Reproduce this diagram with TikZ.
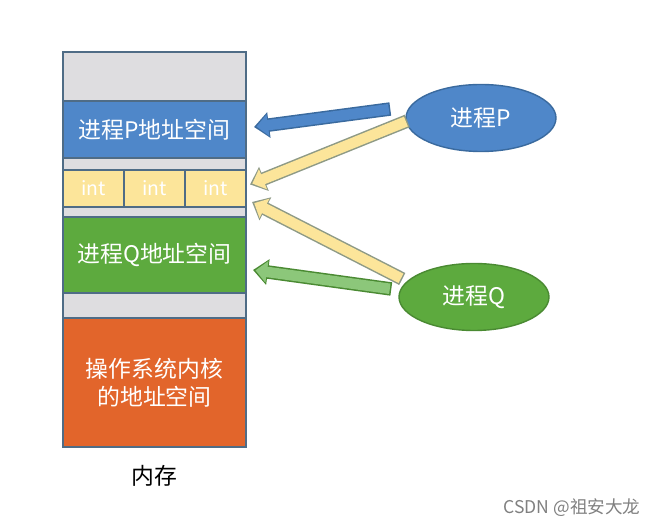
\documentclass[tikz,border=0pt]{standalone}
\usepackage{fontspec}
\newfontfamily\cjk{Noto Sans CJK SC}
\usepackage{tikz}
\usetikzlibrary{positioning,shapes.geometric,arrows.meta}

\definecolor{memgray}{HTML}{DEDDE0}
\definecolor{memedge}{HTML}{4F6C86}
\definecolor{pblue}{HTML}{4F87C9}
\definecolor{pbluedark}{HTML}{3A6A9E}
\definecolor{intyellow}{HTML}{FCE59A}
\definecolor{yellowedge}{HTML}{8E9A86}
\definecolor{qgreen}{HTML}{5DAA3E}
\definecolor{qgreendark}{HTML}{4A8A32}
\definecolor{lightgreen}{HTML}{8CC77A}
\definecolor{osorange}{HTML}{E2652B}

\tikzset{
	seg/.style={draw=memedge, line width=0.7pt, minimum width=3.66cm, inner sep=0pt, outer sep=0pt,
		text=white, font=\cjk\fontsize{13}{16}\selectfont},
	cell/.style={seg, fill=intyellow, minimum width=1.22cm, minimum height=0.74cm, font=\cjk\fontsize{11}{13}\selectfont},
	proc/.style={ellipse, draw=#1, line width=0.8pt, minimum width=3.0cm, minimum height=1.34cm,
		text=white, font=\cjk\fontsize{13}{16}\selectfont},
	blkedge/.style={draw=#1, line width=0.27cm, -{Triangle[width=0.5cm,length=0.3cm]}},
	blkfill/.style={draw=#1, line width=0.21cm, shorten >=0.05cm, shorten <=0.03cm,
		-{Triangle[width=0.42cm,length=0.23cm]}}
}

\begin{document}
\begin{tikzpicture}
	\useasboundingbox (0,0) rectangle (13.16,-10.52);
	
	% memory column
	\node[seg, fill=memgray, minimum height=0.98cm] (top) at (3.09,-1.53) {};
	\node[seg, fill=pblue, minimum height=1.14cm, below=0pt of top] (pspace) {进程P地址空间};
	\node[seg, fill=memgray, minimum height=0.24cm, below=0pt of pspace] (gap1) {};
	\node[cell, anchor=north west] (int1) at (gap1.south west) {int};
	\node[cell, right=0pt of int1] (int2) {int};
	\node[cell, right=0pt of int2] (int3) {int};
	\node[seg, fill=memgray, minimum height=0.2cm, below=0pt of int2] (gap2) {};
	\node[seg, fill=qgreen, minimum height=1.52cm, below=0pt of gap2] (qspace) {进程Q地址空间};
	\node[seg, fill=memgray, minimum height=0.5cm, below=0pt of qspace] (gap3) {};
	\node[seg, fill=osorange, minimum height=2.58cm, align=center, below=0pt of gap3] (os) {操作系统内核\\的地址空间};
	\node[inner sep=0pt, font=\cjk\fontsize{13}{16}\selectfont, below=0.35cm of os] (mem) {内存};
	
	% processes
	\node[proc=pbluedark, fill=pblue] (P) at (9.62,-2.36) {进程P};
	\node[proc=qgreendark, fill=qgreen] (Q) at (9.48,-5.94) {进程Q};
	
	% arrows
	\draw[blkedge=pbluedark] ([xshift=-0.3cm,yshift=0.18cm]P.west) -- ([xshift=0.16cm,yshift=0.05cm]pspace.east);
	\draw[blkfill=pblue] ([xshift=-0.3cm,yshift=0.18cm]P.west) -- ([xshift=0.16cm,yshift=0.05cm]pspace.east);
	\draw[blkedge=yellowedge] ([xshift=0.04cm,yshift=-0.06cm]P.west) -- ([xshift=0.08cm,yshift=0.08cm]int3.east);
	\draw[blkfill=intyellow] ([xshift=0.04cm,yshift=-0.06cm]P.west) -- ([xshift=0.08cm,yshift=0.08cm]int3.east);
	\draw[blkedge=yellowedge] ([xshift=0.08cm,yshift=0.36cm]Q.west) -- ([xshift=0.12cm,yshift=-0.27cm]int3.east);
	\draw[blkfill=intyellow] ([xshift=0.08cm,yshift=0.36cm]Q.west) -- ([xshift=0.12cm,yshift=-0.27cm]int3.east);
	\draw[blkedge=qgreendark] ([xshift=-0.14cm,yshift=0.16cm]Q.west) -- ([xshift=0.14cm,yshift=-0.3cm]qspace.east);
	\draw[blkfill=lightgreen] ([xshift=-0.14cm,yshift=0.16cm]Q.west) -- ([xshift=0.14cm,yshift=-0.3cm]qspace.east);
	
	% watermark
	\node[text=gray, font=\cjk\fontsize{10}{12}\selectfont] (mark) at (11.44,-10.16) {CSDN @祖安大龙};
\end{tikzpicture}
\end{document}
